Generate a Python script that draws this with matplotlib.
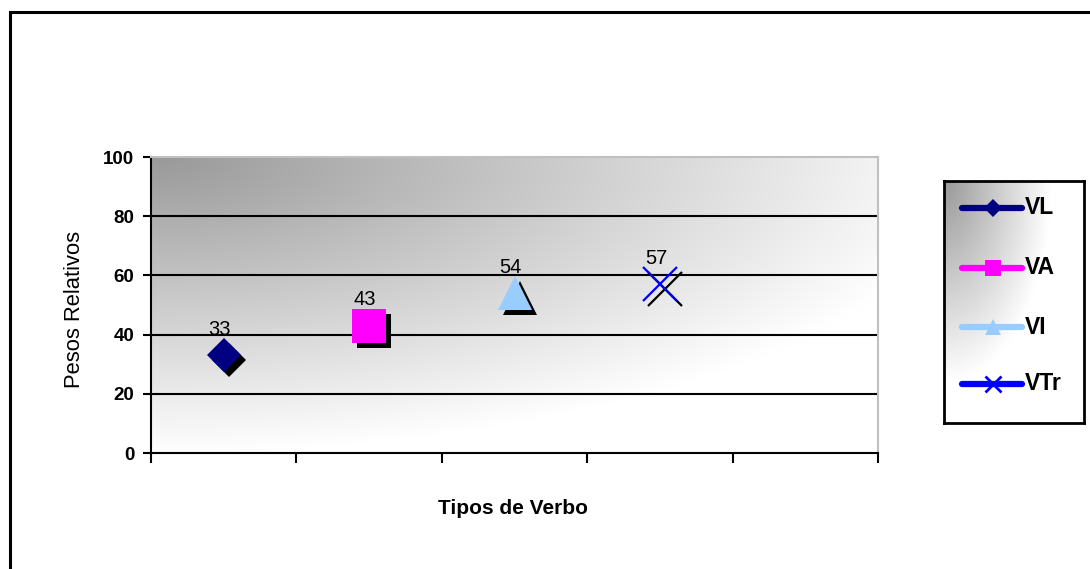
import numpy as np
import matplotlib
matplotlib.use("Agg")
import matplotlib.pyplot as plt
from matplotlib.transforms import ScaledTranslation
from matplotlib.patches import Rectangle

plt.rcParams['font.family'] = ['Liberation Sans', 'DejaVu Sans']

# data
series = ["VL", "VA", "VI", "VTr"]
positions = [1, 2, 3, 4]          # category slot on the x axis
values = [33, 43, 54, 57]         # plotted value (= label)
n_categories = 5
colors = ["#000080", "#FF00FF", "#99CCFF", "#0000FF"]
markers = ["D", "s", "^", "x"]
marker_sizes = [17.5, 24, 25, 25]
y_ticks = [0, 20, 40, 60, 80, 100]


def gradient(nx, ny, fx, fy):
    # row 0 = top, col 0 = left; darkest in the top-left corner
    u = np.linspace(0, 1, nx)[None, :]
    v = np.linspace(0, 1, ny)[:, None]
    d = np.clip(np.sqrt((u * fx) ** 2 + (v * fy) ** 2), 0, 1)
    g = 0.6 + 0.4 * d
    return np.dstack([g, g, g])


fig = plt.figure(figsize=(10.9, 5.69), dpi=100)
W, H = 1090, 569

# outer chart border
fig.patches.append(Rectangle((10 / W, -0.05), 1.2, 1 - 12 / H + 0.05,
                             transform=fig.transFigure, fill=False,
                             edgecolor="black", linewidth=2.2))

ax = fig.add_axes([151 / W, 1 - 453 / H, (878 - 151) / W, (453 - 157) / H])
ax.imshow(gradient(200, 200, 0.88, 1.0), extent=(0.5, n_categories + 0.5, 0, 100),
          aspect="auto", zorder=0, interpolation="bilinear", origin="upper")
ax.set_xlim(0.5, n_categories + 0.5)
ax.set_ylim(0, 100)

for yv in y_ticks[1:-1]:
    ax.axhline(yv, color="black", linewidth=1.5, zorder=1)

shadow = ax.transData + ScaledTranslation(5 / 100, -5 / 100, fig.dpi_scale_trans)
for name, x, y, c, m, ms in zip(series, positions, values, colors, markers, marker_sizes):
    ew = 1.6 if m == "x" else 0
    ax.plot([x], [y], marker=m, markersize=ms, color="black",
            markeredgewidth=ew, linestyle="none", transform=shadow, zorder=2)
    ax.plot([x], [y], marker=m, markersize=ms, color=c,
            markeredgewidth=ew, linestyle="none", zorder=3)
    ax.annotate(str(y), (x, y), xytext=(-4, 26), textcoords="offset pixels",
                ha="center", va="center", fontsize=14.5, zorder=4)

ax.set_xticks(np.arange(0.5, n_categories + 1, 1))
ax.set_xticklabels([])
ax.set_yticks(y_ticks)
ax.set_yticklabels([str(t) for t in y_ticks], fontsize=13.5, fontweight="bold")
ax.tick_params(axis="y", length=6, width=1.5, direction="out", pad=6)
ax.tick_params(axis="x", length=7, width=1.5, direction="out")

for s in ["left", "bottom"]:
    ax.spines[s].set_linewidth(1.5)
    ax.spines[s].set_color("black")
for s in ["top", "right"]:
    ax.spines[s].set_linewidth(1.5)
    ax.spines[s].set_color("#c0c0c0")

fig.text(513 / W, 1 - 508 / H, "Tipos de Verbo", ha="center", va="center",
         fontsize=15, fontweight="bold")
fig.text(74 / W, 1 - 309 / H, "Pesos Relativos", ha="center", va="center",
         rotation=90, fontsize=15.8)

# legend box
lax = fig.add_axes([944 / W, 1 - 423 / H, (1084 - 944) / W, (423 - 181) / H])
lax.imshow(gradient(100, 200, 1.3, 1.2), extent=(0, 1, 1, 0), aspect="auto",
           interpolation="bilinear", zorder=0, origin="upper")
lax.set_xlim(0, 1)
lax.set_ylim(1, 0)
lax.set_xticks([])
lax.set_yticks([])
for s in lax.spines.values():
    s.set_linewidth(2)
    s.set_color("black")

leg_y = [(208 - 181) / 242, (268 - 181) / 242, (327 - 181) / 242, (384 - 181) / 242]
leg_ms = [9, 11, 11, 12]
for name, c, m, ly, lms in zip(series, colors, markers, leg_y, leg_ms):
    lax.plot([0.13, 0.56], [ly, ly], color=c, linewidth=4.5, solid_capstyle="round", zorder=2)
    ew = 2 if m == "x" else 0
    lax.plot([0.35], [ly], marker=m, markersize=lms, color=c, markeredgewidth=ew, zorder=3)
    lax.text(0.58, ly, name, ha="left", va="center", fontsize=16.5, fontweight="bold")

fig.savefig("out.png", dpi=100)
